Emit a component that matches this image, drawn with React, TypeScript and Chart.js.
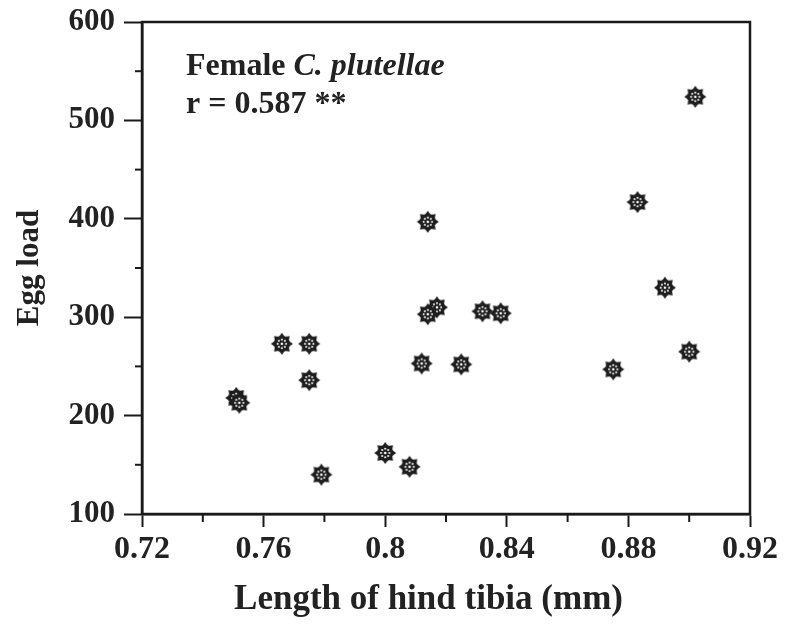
import React, { useEffect, useRef } from "react";
import { Chart, registerables } from "chart.js";

Chart.register(...registerables);

const tibiaLength = [0.902, 0.883, 0.814, 0.892, 0.817, 0.814, 0.832, 0.838, 0.766, 0.775, 0.775, 0.812, 0.825, 0.875, 0.900, 0.751, 0.752, 0.800, 0.808, 0.779];
const eggLoad = [524, 417, 397, 330, 310, 303, 306, 304, 273, 273, 236, 253, 252, 247, 265, 218, 213, 162, 148, 140];

const xTickLabels = ["0.72", "0.76", "0.8", "0.84", "0.88", "0.92"];
const yTickLabels = ["100", "200", "300", "400", "500", "600"];
const xMinorTicks = [0.74, 0.78, 0.82, 0.86, 0.90];
const yMinorTicks = [150, 250, 350, 450, 550];

const annotationLine1a = "Female ";
const annotationLine1b = "C. plutellae";
const annotationLine2 = "r = 0.587 **";

const FONT = "'Liberation Serif', 'Times New Roman', serif";

function makeMarker(): HTMLCanvasElement {
  const c = document.createElement("canvas");
  const s = 24;
  c.width = s;
  c.height = s;
  const ctx = c.getContext("2d")!;
  const cx = s / 2, cy = s / 2;
  ctx.fillStyle = "#1e1e1e";
  ctx.beginPath();
  ctx.arc(cx, cy, 8, 0, Math.PI * 2);
  ctx.fill();
  for (let i = 0; i < 8; i++) {
    const a = (i * Math.PI) / 4 - Math.PI / 2;
    ctx.beginPath();
    ctx.moveTo(cx + Math.cos(a) * 11, cy + Math.sin(a) * 11);
    ctx.lineTo(cx + Math.cos(a + 0.4) * 7.5, cy + Math.sin(a + 0.4) * 7.5);
    ctx.lineTo(cx + Math.cos(a - 0.4) * 7.5, cy + Math.sin(a - 0.4) * 7.5);
    ctx.closePath();
    ctx.fill();
  }
  ctx.fillStyle = "#fff";
  for (let i = 0; i < 8; i++) {
    const a = (i * Math.PI) / 4;
    ctx.beginPath();
    ctx.arc(cx + Math.cos(a) * 4.2, cy + Math.sin(a) * 4.2, 1, 0, Math.PI * 2);
    ctx.fill();
  }
  ctx.beginPath();
  ctx.arc(cx, cy, 1.3, 0, Math.PI * 2);
  ctx.fill();
  return c;
}

const framePlugin = {
  id: "frameAndMinor",
  afterDraw(chart: any) {
    const { ctx, chartArea, scales } = chart;
    ctx.save();
    ctx.strokeStyle = "#1a1a1a";
    ctx.lineWidth = 2.5;
    ctx.strokeRect(chartArea.left, chartArea.top, chartArea.right - chartArea.left, chartArea.bottom - chartArea.top);
    ctx.lineWidth = 2;
    xMinorTicks.forEach((v) => {
      const px = scales.x.getPixelForValue(v);
      ctx.beginPath();
      ctx.moveTo(px, chartArea.bottom);
      ctx.lineTo(px, chartArea.bottom + 8);
      ctx.stroke();
    });
    yMinorTicks.forEach((v) => {
      const py = scales.y.getPixelForValue(v);
      ctx.beginPath();
      ctx.moveTo(chartArea.left, py);
      ctx.lineTo(chartArea.left - 7, py);
      ctx.stroke();
    });
    // annotation
    ctx.fillStyle = "#222";
    ctx.textBaseline = "alphabetic";
    ctx.textAlign = "left";
    const x0 = chartArea.left + 44;
    ctx.font = `bold 32px ${FONT}`;
    ctx.fillText(annotationLine1a, x0, chartArea.top + 53);
    const w = ctx.measureText(annotationLine1a).width;
    ctx.font = `italic bold 32px ${FONT}`;
    ctx.fillText(annotationLine1b, x0 + w, chartArea.top + 53);
    ctx.font = `bold 32px ${FONT}`;
    ctx.fillText(annotationLine2, x0, chartArea.top + 91);
    ctx.restore();
  },
};

export default function App() {
  const ref = useRef<HTMLCanvasElement>(null);
  useEffect(() => {
    const marker = makeMarker();
    const chart = new Chart(ref.current!, {
      type: "scatter",
      data: {
        datasets: [
          {
            data: tibiaLength.map((x, i) => ({ x, y: eggLoad[i] })),
            pointStyle: marker as any,
            pointRadius: 12,
          },
        ],
      },
      options: {
        animation: false,
        responsive: false,
        plugins: { legend: { display: false }, tooltip: { enabled: false } },
        layout: { padding: { top: 22, right: 37, left: 0, bottom: 0 } },
        scales: {
          x: {
            type: "linear",
            min: 0.72,
            max: 0.92,
            afterFit: (s: any) => { s.height = 118; s.paddingLeft = 0; s.paddingRight = 0; },
            afterBuildTicks: (s: any) => {
              s.ticks = xTickLabels.map((t) => ({ value: parseFloat(t) }));
            },
            ticks: {
              color: "#222",
              font: { family: FONT, size: 32, weight: "bold" },
              padding: 4,
              maxRotation: 0,
              callback: (v: any) => xTickLabels.find((t) => Math.abs(parseFloat(t) - v) < 1e-6) ?? "",
            },
            grid: { drawOnChartArea: false, tickLength: 13, tickWidth: 2, tickColor: "#1a1a1a" },
            border: { color: "#1a1a1a", width: 2.5 },
            title: {
              display: true,
              text: "Length of hind tibia (mm)\u2002\u2002",
              color: "#222",
              font: { family: FONT, size: 35, weight: "bold" },
              padding: { top: 0, bottom: 11 },
            },
          },
          y: {
            type: "linear",
            min: 100,
            max: 600,
            afterFit: (s: any) => { s.width = 142; s.paddingTop = 0; s.paddingBottom = 0; },
            afterBuildTicks: (s: any) => {
              s.ticks = yTickLabels.map((t) => ({ value: parseFloat(t) }));
            },
            ticks: {
              color: "#222",
              font: { family: FONT, size: 31, weight: "bold" },
              padding: 9,
              callback: (v: any) => String(v),
            },
            grid: { drawOnChartArea: false, tickLength: 18, tickWidth: 2, tickColor: "#1a1a1a" },
            border: { color: "#1a1a1a", width: 2.5 },
            title: {
              display: true,
              text: "Egg load",
              color: "#222",
              font: { family: FONT, size: 31, weight: "bold" },
              padding: { top: 11, bottom: 0 },
            },
          },
        },
      },
      plugins: [framePlugin],
    });
    return () => chart.destroy();
  }, []);
  return (
    <div style={{ position: "absolute", left: 0, top: 0, width: 787, height: 632, background: "#fff" }}>
      <canvas ref={ref} width={787} height={632} />
    </div>
  );
}
